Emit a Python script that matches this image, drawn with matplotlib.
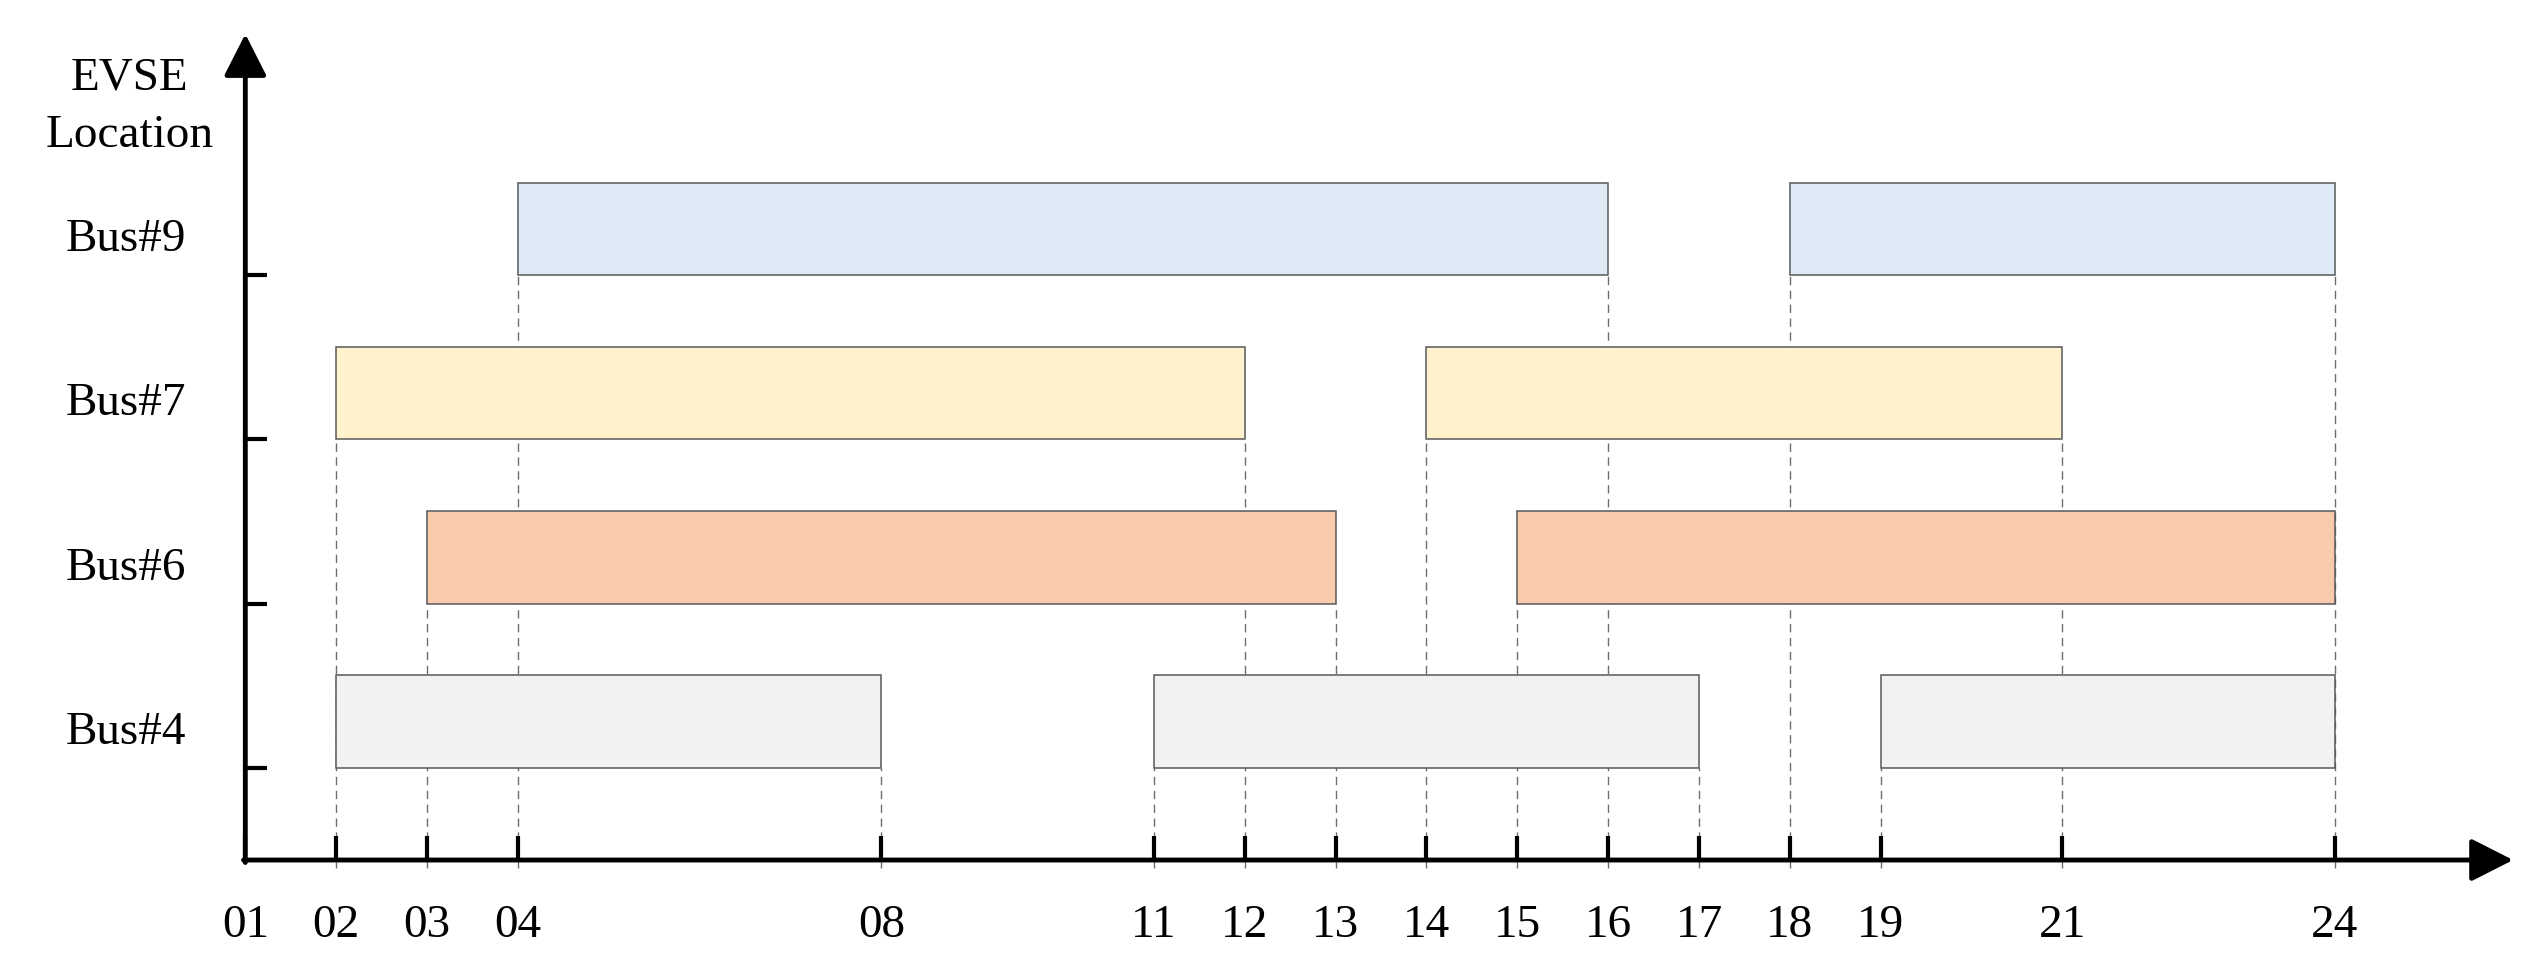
import matplotlib
matplotlib.use("Agg")
import matplotlib.pyplot as plt

plt.rcParams['font.family'] = ['Liberation Serif', 'DejaVu Serif']

# charging periods per EVSE location (start hour, end hour)
stations = ['Bus#4', 'Bus#6', 'Bus#7', 'Bus#9']
bus4_periods = [(2, 8), (11, 17), (19, 24)]
bus6_periods = [(3, 13), (15, 24)]
bus7_periods = [(2, 12), (14, 21)]
bus9_periods = [(4, 16), (18, 24)]
periods = [bus4_periods, bus6_periods, bus7_periods, bus9_periods]
colors = ['#F2F2F2', '#F8CBAD', '#FFF2CC', '#DEEBF7']
first_hour = 1

fig = plt.figure(figsize=(25.44, 9.79), dpi=100)
ax = fig.add_axes([0, 0, 1, 1])
ax.set_xlim(-1.70, 26.30)
ax.set_ylim(-0.278, 5.68)

axis_y = 0.44
bar_h = 0.563
fs = 34

# bars
for row, (plist, col) in enumerate(zip(periods, colors), start=1):
    ax.barh([row] * len(plist), [e - s for s, e in plist], left=[s for s, e in plist],
            height=bar_h, align='edge', color=col, edgecolor='#595959', lw=1.1, zorder=2)

# dashed guide lines from the time axis up to the highest bar edge
edge_top = {}
for row, plist in enumerate(periods, start=1):
    for s, e in plist:
        for x in (s, e):
            edge_top[x] = max(edge_top.get(x, 0), row)
for x, top in edge_top.items():
    ax.plot([x, x], [axis_y - 0.05, top], color='#6E6E6E', lw=1.0, dashes=(6, 4), zorder=1)

# axes drawn as arrows
for sp in ax.spines.values():
    sp.set_visible(False)
ax.spines['bottom'].set_position(('data', axis_y))
ax.spines['left'].set_position(('data', first_hour))
arrow = dict(arrowstyle='-|>,head_length=1.3,head_width=0.66', lw=3.5, color='black',
             mutation_scale=20, shrinkA=0, shrinkB=0)
ax.annotate('', xy=(25.96, axis_y), xytext=(first_hour - 0.02, axis_y), arrowprops=arrow, zorder=4)
ax.annotate('', xy=(first_hour, 5.467), xytext=(first_hour, axis_y - 0.015), arrowprops=arrow, zorder=4)

hours = [first_hour] + sorted(edge_top)
ax.set_xticks(hours)
ax.set_xticklabels(['%02d' % h for h in hours])
ax.tick_params(axis='x', direction='in', length=17, width=3, pad=31, labelsize=fs)
ax.set_yticks(range(1, len(stations) + 1))
ax.set_yticklabels([])
ax.tick_params(axis='y', direction='in', length=16, width=3)

for row, name in enumerate(stations, start=1):
    ax.text(-0.31, row + bar_h / 2 - 0.06, name, ha='center', va='center', fontsize=fs)
ax.text(-0.27, 5.03, 'EVSE\nLocation', ha='center', va='center', fontsize=fs, linespacing=1.45)

fig.savefig('out.png', dpi=100)
